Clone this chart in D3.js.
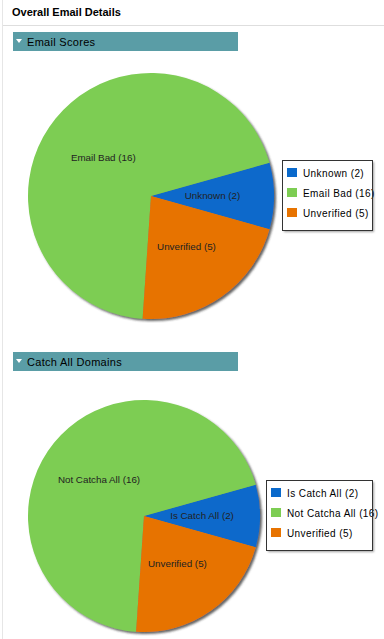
<!DOCTYPE html>
<html>
<head>
<meta charset="utf-8">
<script src="https://cdn.jsdelivr.net/npm/d3@7"></script>
<style>
  body { margin: 0; background: #fff; }
  svg { display: block; font-family: "Liberation Sans", Arial, sans-serif; }
</style>
</head>
<body>
<div id="chart"></div>
<script>
// chart data
const pageTitle = "Overall Email Details";
const scoreTitle = "Email Scores";
const scoreLabels = ["Unknown", "Email Bad", "Unverified"];
const scoreValues = [2, 16, 5];
const catchTitle = "Catch All Domains";
const catchLabels = ["Is Catch All", "Not Catcha All", "Unverified"];
const catchValues = [2, 16, 5];
const sliceColors = ["#0a69cb", "#7dcd53", "#e77300"];

var width = 384, height = 639;

var svg = d3.select("#chart").append("svg")
  .attr("width", width)
  .attr("height", height);

var defs = svg.append("defs");
var sh = defs.append("filter").attr("id", "pieShadow")
  .attr("x", "-10%").attr("y", "-10%").attr("width", "130%").attr("height", "130%");
sh.append("feDropShadow")
  .attr("dx", 2).attr("dy", 2).attr("stdDeviation", 1.3)
  .attr("flood-color", "#333").attr("flood-opacity", 0.75);

var lsh = defs.append("filter").attr("id", "boxShadow")
  .attr("x", "-10%").attr("y", "-10%").attr("width", "130%").attr("height", "130%");
lsh.append("feDropShadow")
  .attr("dx", 2).attr("dy", 2).attr("stdDeviation", 1)
  .attr("flood-color", "#777").attr("flood-opacity", 0.7);

// page frame
svg.append("line").attr("x1", 2.5).attr("x2", 2.5).attr("y1", 0).attr("y2", height)
  .attr("stroke", "#e6e6e6");
svg.append("line").attr("x1", 3).attr("x2", width).attr("y1", 25.5).attr("y2", 25.5)
  .attr("stroke", "#dedede").attr("stroke-width", 1);
svg.append("text").attr("x", 12).attr("y", 16)
  .attr("font-size", 11).attr("font-weight", "bold").attr("fill", "#000")
  .text(pageTitle);

function sectionBar(y, title) {
  var g = svg.append("g").attr("transform", "translate(13," + y + ")");
  g.append("rect").attr("width", 225).attr("height", 19).attr("fill", "#5a9da6");
  g.append("path").attr("d", "M3,7 L9,7 L6,11 Z").attr("fill", "#fff");
  g.append("text").attr("x", 14).attr("y", 13.5)
    .attr("font-size", 11).attr("letter-spacing", 0.3).attr("fill", "#000").text(title);
}

function drawPie(cx, cy, r, labels, values, legend) {
  var a0 = Math.PI / 2 + Math.PI * values[0] / d3.sum(values);
  var pie = d3.pie().sort(null).value(d => d)
    .startAngle(a0).endAngle(a0 - 2 * Math.PI);
  var arc = d3.arc().innerRadius(0).outerRadius(r);
  var arcs = pie(values);

  var g = svg.append("g").attr("transform", "translate(" + cx + "," + cy + ")");
  g.append("g").attr("filter", "url(#pieShadow)")
    .selectAll("path").data(arcs).join("path")
    .attr("d", arc)
    .attr("fill", (d, i) => sliceColors[i]);

  g.selectAll("text").data(arcs).join("text")
    .attr("transform", d => "translate(" + arc.centroid(d) + ")")
    .attr("text-anchor", "middle")
    .attr("dy", "0.35em")
    .attr("font-size", 9.8)
    .attr("fill", "#222")
    .text((d, i) => labels[i] + " (" + values[i] + ")");

  var lg = svg.append("g").attr("transform", "translate(" + legend.x + "," + legend.y + ")");
  lg.append("rect").attr("width", legend.w).attr("height", 70)
    .attr("fill", "#fff").attr("filter", "url(#boxShadow)");
  var rows = lg.selectAll("g.row").data(labels).join("g")
    .attr("class", "row")
    .attr("transform", (d, i) => "translate(5," + (8 + i * 20) + ")");
  rows.append("rect").attr("width", 10).attr("height", 9)
    .attr("fill", (d, i) => sliceColors[i]);
  rows.append("text").attr("x", 16).attr("y", 8.5)
    .attr("font-size", 10).attr("letter-spacing", 0.4).attr("fill", "#000")
    .text((d, i) => d + " (" + values[i] + ")");
  lg.append("rect").attr("x", 0.5).attr("y", 0.5)
    .attr("width", legend.w).attr("height", 70)
    .attr("fill", "none").attr("stroke", "#333");
}

sectionBar(32, scoreTitle);
drawPie(151, 196, 123, scoreLabels, scoreValues, {x: 282, y: 160, w: 90});

sectionBar(352, catchTitle);
drawPie(144, 516, 116, catchLabels, catchValues, {x: 266, y: 480, w: 106});
</script>
</body>
</html>
